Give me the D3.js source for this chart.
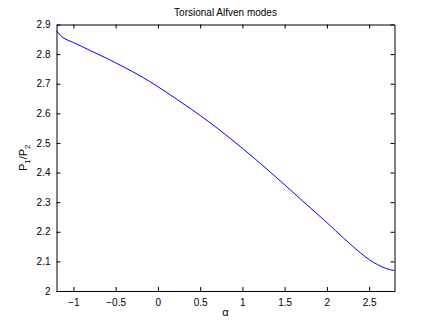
<!DOCTYPE html>
<html><head><meta charset="utf-8">
<script src="https://cdn.jsdelivr.net/npm/d3@7"></script>
<style>body{margin:0;background:#fff}svg{display:block}text{font-family:"Liberation Sans",Arial,sans-serif}</style>
</head><body>
<svg id="c" width="436" height="327"></svg>
<script>
const alpha = [-1.2,-1.15,-1.1,-1.05,-1.0,-0.8,-0.6,-0.4,-0.2,0,0.2,0.4,0.6,0.8,1.0,1.2,1.4,1.6,1.8,2.0,2.2,2.4,2.5,2.6,2.7,2.8];
const ratio = [2.880,2.862,2.852,2.845,2.839,2.812,2.785,2.756,2.725,2.690,2.652,2.613,2.572,2.528,2.482,2.434,2.384,2.333,2.282,2.231,2.178,2.128,2.106,2.089,2.076,2.069];
const xTicks = [-1,-0.5,0,0.5,1,1.5,2,2.5];
const yTicks = [2,2.1,2.2,2.3,2.4,2.5,2.6,2.7,2.8,2.9];
const title = "Torsional Alfven modes";

const svg = d3.select("#c");
const L=56.5, R=394.5, T=24.5, B=291;
const x = d3.scaleLinear().domain([-1.2,2.8]).range([L,R]);
const y = d3.scaleLinear().domain([2,2.9]).range([B,T]);
const fmt = d=>String(d).replace("-","\u2212");

const g = svg.append("g");
g.append("g").attr("transform",`translate(0,${B})`)
 .call(d3.axisBottom(x).tickValues(xTicks).tickSizeInner(-4).tickSizeOuter(0).tickPadding(8).tickFormat(fmt))
 .call(a=>a.select(".domain").attr("stroke","#000"))
 .call(a=>a.selectAll("text").attr("font-size",10).attr("fill","#000"));
g.append("g").attr("transform",`translate(0,${T})`)
 .call(d3.axisTop(x).tickValues(xTicks).tickSizeInner(-4).tickSizeOuter(0).tickFormat(""));
g.append("g").attr("transform",`translate(${L},0)`)
 .call(d3.axisLeft(y).tickValues(yTicks).tickSizeInner(-4).tickSizeOuter(0).tickPadding(6).tickFormat(d=>d3.format("")(d)))
 .call(a=>a.selectAll("text").attr("font-size",10).attr("fill","#000"));
g.append("g").attr("transform",`translate(${R},0)`)
 .call(d3.axisRight(y).tickValues(yTicks).tickSizeInner(-4).tickSizeOuter(0).tickFormat(""));

const data = alpha.map((a,i)=>[a,ratio[i]]);
svg.append("path").datum(data)
 .attr("fill","none").attr("stroke","#0000ff").attr("stroke-width",1)
 .attr("d", d3.line().x(d=>x(d[0])).y(d=>y(d[1])).curve(d3.curveMonotoneX));

svg.append("text").attr("x",(L+R)/2).attr("y",16).attr("text-anchor","middle")
 .attr("font-size",10).text(title);
svg.append("text").attr("x",(L+R)/2).attr("y",316).attr("text-anchor","middle")
 .attr("font-size",11).text("\u03b1");
const yl = svg.append("text").attr("transform",`translate(27,${(T+B)/2}) rotate(-90)`)
 .attr("text-anchor","middle").attr("font-size",11);
yl.append("tspan").text("P");
yl.append("tspan").attr("font-size",8).attr("dy",3).text("1");
yl.append("tspan").attr("dy",-3).text("/P");
yl.append("tspan").attr("font-size",8).attr("dy",3).text("2");
</script>
</body></html>
